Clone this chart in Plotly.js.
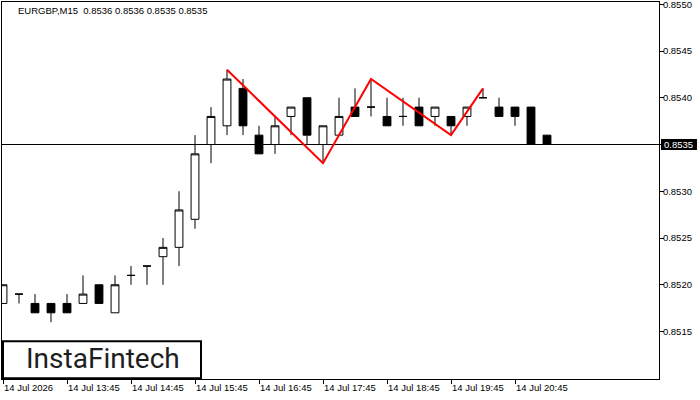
<!DOCTYPE html>
<html>
<head>
<meta charset="utf-8">
<script src="https://cdn.plot.ly/plotly-3.0.1.min.js"></script>
<style>html,body{margin:0;padding:0;background:#fff;}#chart{width:700px;height:400px;}</style>
</head>
<body>
<div id="chart"></div>
<script>
// ---- data (EURGBP, M15, 14 Jul 2026) ----
var symbol = 'EURGBP,M15';
var times = ['12:45','13:00','13:15','13:30','13:45','14:00','14:15','14:30','14:45','15:00',
             '15:15','15:30','15:45','16:00','16:15','16:30','16:45','17:00','17:15','17:30',
             '17:45','18:00','18:15','18:30','18:45','19:00','19:15','19:30','19:45','20:00',
             '20:15','20:30','20:45','21:00','21:15'];
var openP  = [0.8518,0.8519,0.8518,0.8518,0.8518,0.8518,0.8520,0.8517,0.8521,0.8522,
              0.8523,0.8524,0.8527,0.8535,0.8537,0.8541,0.8536,0.8535,0.8538,0.8540,
              0.8535,0.8536,0.8539,0.8539,0.8538,0.8538,0.8539,0.8538,0.8538,0.8538,
              0.8540,0.8539,0.8539,0.8539,0.8536];
var highP  = [0.8520,0.8519,0.8519,0.8518,0.8519,0.8521,0.8520,0.8521,0.8522,0.8522,
              0.8525,0.8530,0.8536,0.8539,0.8543,0.8542,0.8537,0.8538,0.8539,0.8540,
              0.8537,0.8540,0.8541,0.8542,0.8540,0.8540,0.8540,0.8539,0.8538,0.8539,
              0.8541,0.8540,0.8539,0.8539,0.8536];
var lowP   = [0.8518,0.8518,0.8517,0.8516,0.8517,0.8518,0.8518,0.8517,0.8520,0.8520,
              0.8520,0.8522,0.8526,0.8533,0.8536,0.8536,0.8534,0.8534,0.8536,0.8535,
              0.8533,0.8536,0.8538,0.8538,0.8537,0.8537,0.8537,0.8537,0.8536,0.8537,
              0.8540,0.8538,0.8537,0.8535,0.8535];
var closeP = [0.8520,0.8519,0.8517,0.8517,0.8517,0.8519,0.8518,0.8520,0.8521,0.8522,
              0.8524,0.8528,0.8534,0.8538,0.8542,0.8537,0.8534,0.8537,0.8539,0.8536,
              0.8537,0.8538,0.8538,0.8539,0.8537,0.8538,0.8537,0.8539,0.8537,0.8539,
              0.8540,0.8538,0.8538,0.8535,0.8535];
// triple top pattern outline
var patternTimes  = ['16:15','17:45','18:30','19:45','20:15'];
var patternPrices = [0.8543, 0.8533, 0.8542, 0.8536, 0.8541];
// axis labels
var xTickTimes  = ['12:45','13:45','14:45','15:45','16:45','17:45','18:45','19:45','20:45'];
var xTickLabels = ['14 Jul 2026','14 Jul 13:45','14 Jul 14:45','14 Jul 15:45','14 Jul 16:45',
                   '14 Jul 17:45','14 Jul 18:45','14 Jul 19:45','14 Jul 20:45'];
var yTickValues = [0.8515,0.8520,0.8525,0.8530,0.8535,0.8540,0.8545,0.8550];
var brand = 'InstaFintech';

// ---- build ----
var xIdx = times.map(function(t,i){return i;});
var last = times.length-1;
var lastClose = closeP[last];
var header = symbol + '  ' + [openP[last],highP[last],lowP[last],closeP[last]].map(function(v){return v.toFixed(4);}).join(' ');

var FONT = 'Liberation Sans, Arial, sans-serif';

var candles = {
  type:'candlestick', x:xIdx, open:openP, high:highP, low:lowP, close:closeP,
  increasing:{line:{color:'#000000',width:1}, fillcolor:'#ffffff'},
  decreasing:{line:{color:'#000000',width:1}, fillcolor:'#000000'},
  whiskerwidth:0, hoverinfo:'none', showlegend:false
};
var pattern = {
  type:'scatter', mode:'lines',
  x:patternTimes.map(function(t){return times.indexOf(t);}), y:patternPrices,
  line:{color:'#ff0000', width:2}, hoverinfo:'none', showlegend:false
};

var layout = {
  width:700, height:400,
  margin:{l:2, r:41, t:2, b:21, pad:0},
  paper_bgcolor:'#ffffff', plot_bgcolor:'#ffffff',
  showlegend:false,
  title:{text:header, x:18/700, xanchor:'left', xref:'container', y:1-11/400, yanchor:'middle', yref:'container',
         font:{family:FONT, size:9.5, color:'#000000'}},
  xaxis:{
    range:[-0.0625, 41], showgrid:false, zeroline:false,
    showline:true, mirror:true, linecolor:'#000000', linewidth:1,
    tickmode:'array', tickvals:xTickTimes.map(function(t){return times.indexOf(t);}), ticktext:xTickLabels,
    ticks:'outside', ticklen:4, tickcolor:'#000000', tickwidth:1,
    ticklabelposition:'outside right',
    tickfont:{family:FONT, size:9.5, color:'#000000'},
    rangeslider:{visible:false}, fixedrange:true
  },
  yaxis:{
    range:[0.850992, 0.855024], side:'right', showgrid:false, zeroline:false,
    showline:true, mirror:true, linecolor:'#000000', linewidth:1,
    tickmode:'array', tickvals:yTickValues,
    ticktext:yTickValues.map(function(v){return v === lastClose ? '' : v.toFixed(4);}),
    ticks:'outside', ticklen:4, tickcolor:'#000000', tickwidth:1,
    ticklabeloverflow:'allow', ticklabelstandoff:-3,
    tickfont:{family:FONT, size:9.5, color:'#000000'}, fixedrange:true
  },
  shapes:[
    {type:'line', xref:'paper', x0:0, x1:1, yref:'y', y0:lastClose, y1:lastClose,
     line:{color:'#000000', width:1}, layer:'below'},
    {type:'rect', xref:'paper', xsizemode:'pixel', xanchor:1, x0:2, x1:38,
     yref:'y', ysizemode:'pixel', yanchor:lastClose, y0:-5.5, y1:5.5,
     fillcolor:'#000000', line:{width:0}},
    {type:'rect', xref:'paper', x0:0.0015, x1:0.3029, yref:'paper', y0:0.002, y1:0.1,
     fillcolor:'#ffffff', line:{color:'#000000', width:2}, layer:'above'}
  ],
  annotations:[
    {xref:'paper', x:1, xshift:3, xanchor:'left', yref:'y', y:lastClose, yanchor:'middle',
     text:lastClose.toFixed(4), showarrow:false, font:{family:FONT, size:9.5, color:'#ffffff'}},
    {xref:'paper', x:0.1535, xanchor:'center', yref:'paper', y:0.055, yanchor:'middle',
     text:brand, showarrow:false, font:{family:'Roboto, sans-serif', size:28, color:'#1e1e1e'}}
  ]
};

Plotly.newPlot('chart', [candles, pattern], layout, {staticPlot:true, displayModeBar:false});
</script>
</body>
</html>
